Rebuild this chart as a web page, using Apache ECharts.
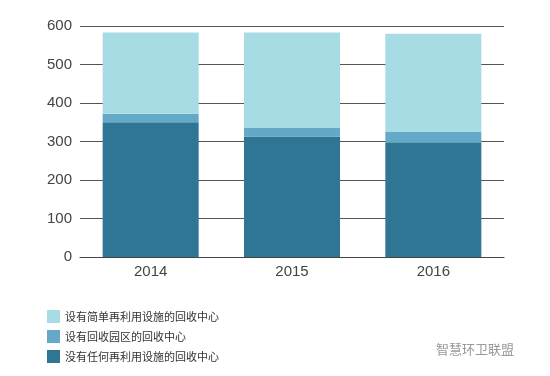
<!DOCTYPE html>
<html><head><meta charset="utf-8">
<script src="https://cdn.jsdelivr.net/npm/echarts@6/dist/echarts.min.js"></script>
<style>html,body{margin:0;padding:0;background:#fff}#c{width:550px;height:376px}</style>
</head><body><div id="c"></div>
<script>
const categories = ['2014', '2015', '2016'];
const seriesNames = ['没有任何再利用设施的回收中心', '设有回收园区的回收中心', '设有简单再利用设施的回收中心'];
const noReuse = [350, 313, 298];
const withPark = [22, 22, 27];
const simpleReuse = [211, 248, 255];
const yTicks = [0, 100, 200, 300, 400, 500, 600];
const colors = ['#2f7594', '#64aac8', '#a7dce5'];
const dataSets = [noReuse, withPark, simpleReuse];

const chart = echarts.init(document.getElementById('c'));
chart.setOption({
  animation: false,
  textStyle: {fontFamily: '"Noto Sans CJK SC", "Noto Sans", sans-serif'},
  grid: {left: 80, right: 46, top: 26, bottom: 119},
  legend: {
    orient: 'vertical', left: 42, top: 305, itemWidth: 13, itemHeight: 13, itemGap: 7,
    data: [seriesNames[2], seriesNames[1], seriesNames[0]],
    textStyle: {fontSize: 11, color: '#333'},
    icon: 'rect', itemStyle: {borderWidth: 0}
  },
  xAxis: {
    type: 'category', data: categories,
    axisLine: {lineStyle: {color: '#444', width: 1}},
    axisTick: {show: false},
    axisLabel: {fontSize: 15, color: '#444', margin: 7, fontFamily: '"Liberation Sans", sans-serif'}
  },
  yAxis: {
    type: 'value', min: yTicks[0], max: yTicks[yTicks.length - 1], interval: 100,
    axisLine: {show: false}, axisTick: {show: false},
    axisLabel: {fontSize: 15, color: '#444', margin: 8, fontFamily: '"Liberation Sans", sans-serif'},
    splitLine: {lineStyle: {color: '#555', width: 1}}
  },
  series: dataSets.map((d, i) => ({
    name: seriesNames[i], type: 'bar', stack: 'a', data: d, barWidth: 96,
    itemStyle: {color: colors[i]}
  })),
  graphic: [{
    type: 'text', left: 436, top: 343,
    style: {text: '智慧环卫联盟', fontSize: 13, fill: '#999', fontFamily: '"Noto Sans CJK SC", sans-serif'}
  }]
});
</script></body></html>
